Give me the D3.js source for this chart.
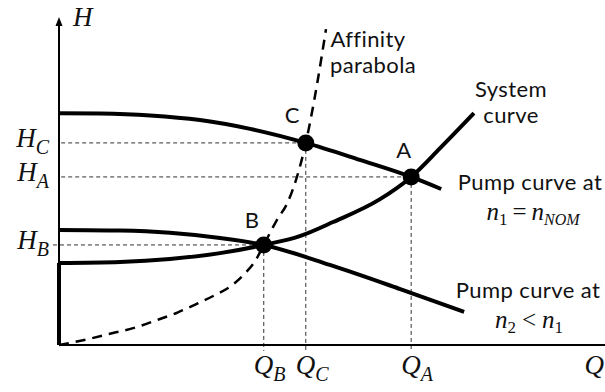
<!DOCTYPE html>
<html>
<head>
<meta charset="utf-8">
<script src="https://cdn.jsdelivr.net/npm/d3@7"></script>
<style>
  html, body { margin: 0; padding: 0; background: #fff; }
  svg { display: block; }
  .sans { font-family: Lato, "Open Sans", sans-serif; fill: #111; letter-spacing: 0.4px; }
  .math { font-family: "Liberation Serif", "DejaVu Serif", serif; font-style: italic; fill: #111; }
  .up { font-style: normal; }
</style>
</head>
<body>
<svg id="chart" width="605" height="392"></svg>
<script>
// Flow Q (horizontal) and head H (vertical) in arbitrary units, 0..100.
const pumpNominal = [[0, 70.9], [7.5, 70.8], [16.7, 70.2], [25.8, 68.8], [35.0, 66.1],
                     [45.2, 61.8], [55.1, 56.6], [64.5, 51.4], [70.0, 47.7]];
const pumpReduced = [[0, 35.2], [11.2, 35.0], [20.3, 34.3], [29.5, 32.7], [37.5, 30.6],
                     [49.6, 24.5], [62.5, 17.1], [74.2, 10.1]];
const systemCurve = [[0, 25.1], [11.2, 25.4], [20.3, 26.3], [29.5, 28.1], [37.5, 30.6],
                     [44.1, 33.3], [50.2, 37.6], [58.8, 44.6], [64.5, 51.4], [69.8, 60.2], [76.0, 70.9]];
const systemStatic = [[0, 0], [0, 25.1]];
const affinity = [[0, 0], [5.3, 1.8], [9.7, 3.6], [13.9, 5.3], [17.4, 7.3], [21.8, 10.0],
                  [25.5, 12.8], [28.6, 15.3], [31.7, 18.3], [34.1, 22.0], [35.9, 25.6],
                  [37.5, 30.6], [39.9, 38.2], [41.9, 43.7], [45.2, 61.8], [47.3, 80.1], [48.9, 96.6]];

// Operating points
const pointNames = ["A", "B", "C"];
const pointQ = [64.5, 37.5, 45.2];
const pointH = [51.4, 30.6, 61.8];

// Axis labels (symbol + subscript) for the marked heads and flows
const hTickSubs = ["A", "B", "C"];
const qTickSubs = ["A", "B", "C"];

const svg = d3.select("#chart");
const x = d3.scaleLinear().domain([0, 100]).range([59, 605]);
const y = d3.scaleLinear().domain([0, 100]).range([345, 18]);

const idx = name => pointNames.indexOf(name);

// Guide lines from the axes to each operating point
const guides = svg.append("g").attr("stroke", "#333").attr("stroke-width", 1)
  .attr("stroke-dasharray", "4,3").attr("fill", "none");
hTickSubs.forEach(s => {
  const i = idx(s);
  guides.append("line")
    .attr("x1", s === "B" ? x(-1.1) : x(0.4)).attr("x2", x(pointQ[i]))
    .attr("y1", y(pointH[i])).attr("y2", y(pointH[i]));
});
qTickSubs.forEach(s => {
  const i = idx(s);
  guides.append("line")
    .attr("x1", x(pointQ[i])).attr("x2", x(pointQ[i]))
    .attr("y1", y(pointH[i])).attr("y2", y(-1.8));
});

// Axes
svg.append("line").attr("x1", x(0)).attr("x2", x(100)).attr("y1", y(0)).attr("y2", y(0))
  .attr("stroke", "#000").attr("stroke-width", 2);
svg.append("line").attr("x1", x(0)).attr("x2", x(0)).attr("y1", y(0)).attr("y2", y(100) + 6)
  .attr("stroke", "#000").attr("stroke-width", 2);
svg.append("path")
  .attr("d", `M${x(0)},${y(100) - 1} L${x(0) - 3.5},${y(100) + 8} L${x(0) + 3.5},${y(100) + 8} Z`)
  .attr("fill", "#000");

const line = d3.line().x(d => x(d[0])).y(d => y(d[1])).curve(d3.curveMonotoneX);

// Affinity parabola (dashed)
svg.append("path").datum(affinity).attr("d", line)
  .attr("fill", "none").attr("stroke", "#000").attr("stroke-width", 2.5)
  .attr("stroke-dasharray", "10,7");

// Pump and system curves
[pumpNominal, pumpReduced, systemCurve].forEach(data => {
  svg.append("path").datum(data).attr("d", line)
    .attr("fill", "none").attr("stroke", "#000").attr("stroke-width", 4);
});
svg.append("path").datum(systemStatic).attr("d", d3.line().x(d => x(d[0])).y(d => y(d[1])))
  .attr("fill", "none").attr("stroke", "#000").attr("stroke-width", 4);

// Operating point markers
svg.append("g").selectAll("circle").data(pointNames).join("circle")
  .attr("cx", (d, i) => x(pointQ[i])).attr("cy", (d, i) => y(pointH[i]))
  .attr("r", 8.5).attr("fill", "#000");

// Point letters
const letterOffset = { A: [-15, -19], B: [-19, -17], C: [-21, -20] };
svg.append("g").selectAll("text").data(pointNames).join("text")
  .attr("class", "sans").attr("font-size", 22)
  .attr("x", (d, i) => x(pointQ[i]) + letterOffset[d][0])
  .attr("y", (d, i) => y(pointH[i]) + letterOffset[d][1])
  .text(d => d);

// Symbol with subscript helper
function mathLabel(g, px, py, sym, sub, anchor) {
  const t = g.append("text").attr("class", "math").attr("x", px).attr("y", py)
    .attr("font-size", 27).attr("text-anchor", anchor);
  t.append("tspan").text(sym);
  if (sub) t.append("tspan").attr("dy", 7).attr("font-size", 20).text(sub);
  return t;
}

// H labels on the vertical axis
const hLab = svg.append("g");
hTickSubs.forEach(s => {
  const i = idx(s);
  mathLabel(hLab, 49, y(pointH[i]) + 4, "H", s, "end");
});
mathLabel(hLab, 73, 26, "H", null, "start");

// Q labels under the horizontal axis
const qLab = svg.append("g");
qTickSubs.forEach(s => {
  const i = idx(s);
  mathLabel(qLab, x(pointQ[i]) - 10, 374, "Q", s, "start");
});
mathLabel(qLab, 604, 374, "Q", null, "end");

// Curve annotations: one text element per block, one tspan per line
function textBlock(lines, size) {
  const t = svg.append("text").attr("class", "sans").attr("font-size", size)
    .attr("text-anchor", "middle");
  lines.forEach(l => {
    t.append("tspan").attr("x", l[1]).attr("y", l[2]).text(l[0]);
  });
}
textBlock([["Affinity", 368, 46.6], ["parabola", 373, 73.2]], 22);
textBlock([["System", 511, 96.6], ["curve", 511, 123.2]], 22);
textBlock([["Pump curve at", 530, 190]], 22);
textBlock([["Pump curve at", 528, 298]], 22);

// n1 = nNOM
const n1 = svg.append("text").attr("class", "math").attr("font-size", 25)
  .attr("text-anchor", "middle").attr("x", 533).attr("y", 220);
n1.append("tspan").text("n");
n1.append("tspan").attr("class", "up").attr("font-size", 17).attr("dy", 5).text("1");
n1.append("tspan").attr("class", "up").attr("dy", -5).attr("dx", 5).text("=");
n1.append("tspan").attr("dx", 5).text("n");
n1.append("tspan").attr("font-size", 16).attr("dy", 5).text("NOM");

// n2 < n1
const n2 = svg.append("text").attr("class", "math").attr("font-size", 25)
  .attr("text-anchor", "middle").attr("x", 529).attr("y", 328);
n2.append("tspan").text("n");
n2.append("tspan").attr("class", "up").attr("font-size", 17).attr("dy", 5).text("2");
n2.append("tspan").attr("class", "up").attr("dy", -5).attr("dx", 6).text("<");
n2.append("tspan").attr("dx", 6).text("n");
n2.append("tspan").attr("class", "up").attr("font-size", 17).attr("dy", 5).text("1");
</script>
</body>
</html>
